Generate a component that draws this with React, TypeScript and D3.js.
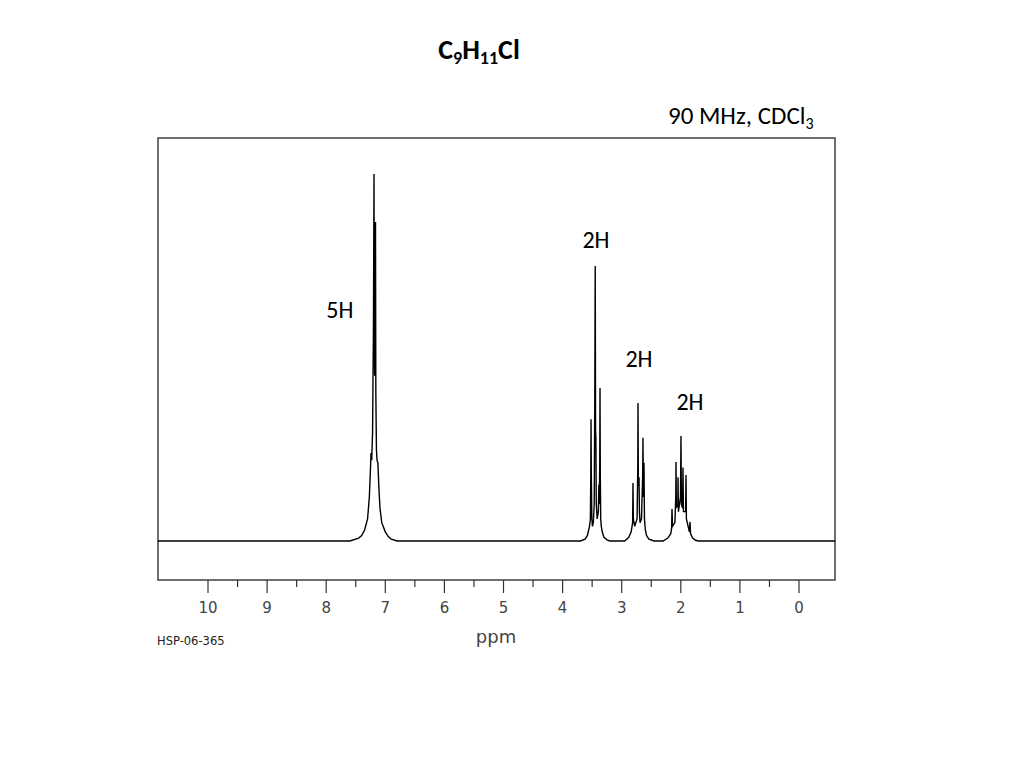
import React from "react";
import * as d3 from "d3";

// Spectrum trace points: chemical shift (ppm) and intensity (tallest line = 100)
const tracePpm: number[] = [
  10.85, 7.6, 7.45, 7.4, 7.35, 7.3, 7.27, 7.25, 7.242, 7.23, 7.215, 7.2, 7.191, 7.186, 7.18, 7.174, 7.166, 7.16, 7.15, 7.14, 7.125, 7.11, 7.09, 7.06, 7.0, 6.95, 6.9, 6.8,
  3.7, 3.62, 3.58, 3.545, 3.53, 3.522, 3.519, 3.514, 3.505, 3.495, 3.48, 3.465, 3.455, 3.448, 3.442, 3.437, 3.43, 3.415, 3.395, 3.386, 3.38, 3.372, 3.367, 3.362, 3.355, 3.345, 3.33, 3.3, 3.25, 3.2,
  2.95, 2.88, 2.84, 2.815, 2.809, 2.803, 2.78, 2.74, 2.728, 2.724, 2.718, 2.707, 2.7, 2.69, 2.665, 2.645, 2.64, 2.633, 2.623, 2.615, 2.6, 2.58, 2.54, 2.45,
  2.3, 2.22, 2.17, 2.155, 2.149, 2.14, 2.1, 2.085, 2.081, 2.075, 2.05, 2.047, 2.04, 2.005, 1.997, 1.99, 1.97, 1.963, 1.955, 1.918, 1.912, 1.905, 1.855, 1.844, 1.835, 1.8, 1.75, 1.7,
  -0.61,
];
const traceIntensity: number[] = [
  0, 0, 0.8, 1.5, 3, 6, 12, 20, 24, 22, 30, 60, 100, 55, 45, 70, 86.9, 40, 25, 22, 21.3, 15, 9, 5, 2.5, 1.2, 0.5, 0,
  0, 0.5, 1.5, 4, 6, 20, 33.2, 18, 6, 4, 5, 10, 40, 74.9, 30, 28.1, 10, 6, 8, 15.3, 10, 20, 41.7, 18, 6, 4, 2.5, 1, 0.3, 0,
  0, 1, 2.5, 5, 15.8, 6, 4, 6, 20, 37.6, 15, 17.4, 8, 5, 6, 18, 28.1, 12, 21.3, 6, 3, 1.5, 0.5, 0,
  0, 0.8, 2, 3.5, 8.7, 4, 5, 12, 21.5, 9, 10, 17.4, 8, 12, 28.6, 10, 9, 20, 8, 8, 18, 6, 2.5, 5.2, 2, 0.8, 0.2, 0,
  0,
];

const majorTicks: number[] = [10, 9, 8, 7, 6, 5, 4, 3, 2, 1, 0];
const minorTicks: number[] = [9.5, 8.5, 7.5, 6.5, 5.5, 4.5, 3.5, 2.5, 1.5, 0.5];

// Integration labels: label, ppm position, intensity position
const integLabels: string[] = ["5H", "2H", "2H", "2H"];
const integPpm: number[] = [7.77, 3.435, 2.707, 1.844];
const integIntensity: number[] = [62.4, 81.5, 49.0, 37.3];

const W = 1024;
const H = 768;
const box = { left: 158, right: 835, top: 138, bottom: 580 };

export default function App() {
  const x = d3.scaleLinear().domain([10, 0]).range([208, 799]);
  const y = d3.scaleLinear().domain([0, 100]).range([541, 174]);

  const pts: [number, number][] = tracePpm.map((p, i) => [p, traceIntensity[i]]);
  const line = d3
    .line<[number, number]>()
    .x((d) => x(d[0]))
    .y((d) => y(d[1]));

  const calibri = "Carlito, Calibri, 'Open Sans', 'Noto Sans', sans-serif";
  const axisFont = "'DejaVu Sans', sans-serif";

  return (
    <svg
      width={W}
      height={H}
      viewBox={`0 0 ${W} ${H}`}
      style={{ position: "absolute", left: 0, top: 0, background: "#fff" }}
    >
      <rect x={0} y={0} width={W} height={H} fill="#fff" />
      {/* Title */}
      <text x={479} y={59} textAnchor="middle" fontFamily={calibri} fontWeight="bold" fontSize={28} fill="#000">
        C<tspan fontSize={18} dy={5}>9</tspan>
        <tspan dy={-5}>H</tspan>
        <tspan fontSize={18} dy={5}>11</tspan>
        <tspan dy={-5}>Cl</tspan>
      </text>
      {/* Conditions */}
      <text x={668} y={124} fontFamily={calibri} fontSize={25} fill="#000">
        90 MHz, CDCl<tspan fontSize={16} dy={5}>3</tspan>
      </text>

      {/* Frame */}
      <rect
        x={box.left}
        y={box.top}
        width={box.right - box.left}
        height={box.bottom - box.top}
        fill="none"
        stroke="#333"
        strokeWidth={1.4}
      />

      {/* Ticks */}
      {majorTicks.map((t) => (
        <g key={"M" + t}>
          <line x1={x(t)} x2={x(t)} y1={box.bottom} y2={box.bottom + 13} stroke="#333" strokeWidth={1.2} />
          <text x={x(t)} y={613} textAnchor="middle" fontFamily={axisFont} fontSize={15} fill="#444">
            {t}
          </text>
        </g>
      ))}
      {minorTicks.map((t) => (
        <line key={"m" + t} x1={x(t)} x2={x(t)} y1={box.bottom} y2={box.bottom + 7} stroke="#333" strokeWidth={1.2} />
      ))}

      <text x={496} y={643} textAnchor="middle" fontFamily={axisFont} fontSize={18} fill="#444">
        ppm
      </text>
      <text x={157} y={645} fontFamily={axisFont} fontSize={11.5} fill="#222">
        HSP-06-365
      </text>

      {/* Spectrum */}
      <path d={line(pts) || ""} fill="none" stroke="#000" strokeWidth={1.4} strokeLinejoin="miter" />

      {/* Integration labels */}
      {integLabels.map((l, i) => (
        <text
          key={"i" + i}
          x={x(integPpm[i])}
          y={y(integIntensity[i])}
          textAnchor="middle"
          dominantBaseline="middle"
          fontFamily={calibri}
          fontSize={24}
          fill="#000"
        >
          {l}
        </text>
      ))}
    </svg>
  );
}
